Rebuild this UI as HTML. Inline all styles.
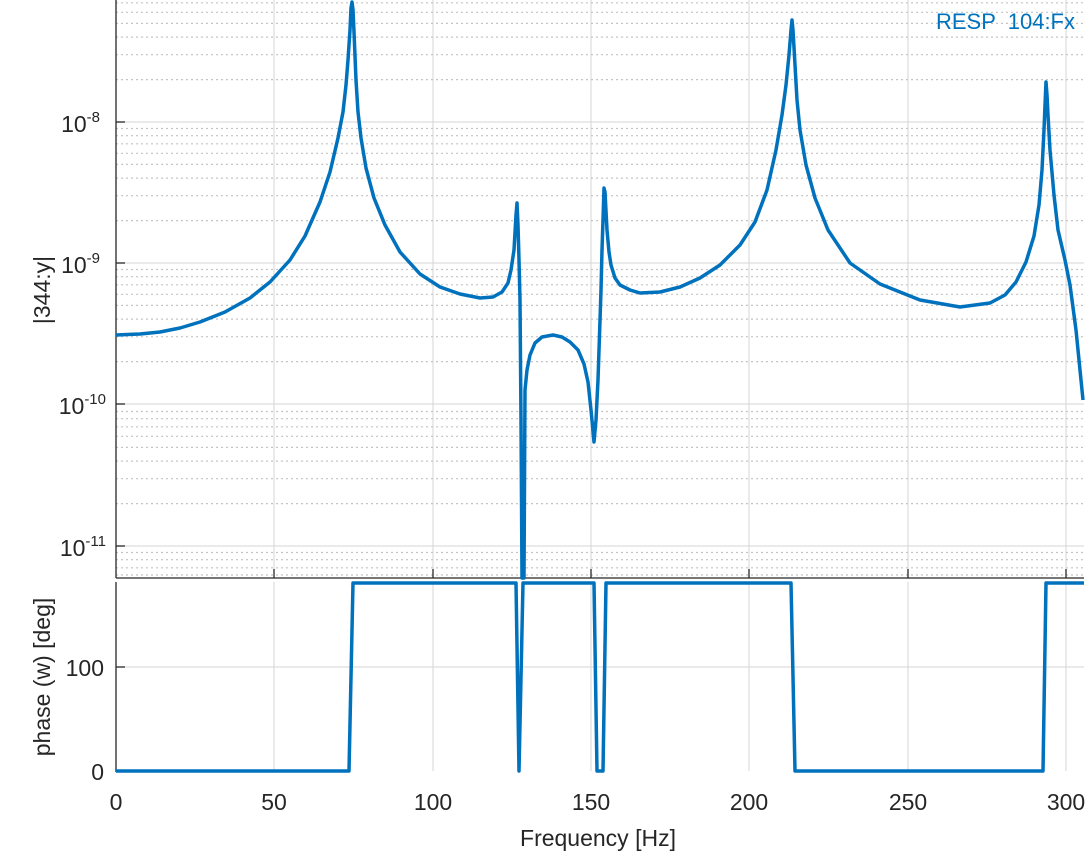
<!DOCTYPE html><html><head><style>body{margin:0;background:#fff}svg{display:block;font-family:"Liberation Sans",sans-serif}</style></head><body>
<svg width="1089" height="857" viewBox="0 0 1089 857">
<g stroke="#d6d6d6" stroke-width="1">
<line x1="274" y1="0" x2="274" y2="578"/><line x1="433" y1="0" x2="433" y2="578"/><line x1="591" y1="0" x2="591" y2="578"/><line x1="749" y1="0" x2="749" y2="578"/><line x1="908" y1="0" x2="908" y2="578"/><line x1="1066" y1="0" x2="1066" y2="578"/>
<line x1="274" y1="582" x2="274" y2="771"/><line x1="433" y1="582" x2="433" y2="771"/><line x1="591" y1="582" x2="591" y2="771"/><line x1="749" y1="582" x2="749" y2="771"/><line x1="908" y1="582" x2="908" y2="771"/><line x1="1066" y1="582" x2="1066" y2="771"/>
<line x1="116" y1="667" x2="1084" y2="667"/>
<line x1="116" y1="122" x2="1084" y2="122"/><line x1="116" y1="263" x2="1084" y2="263"/><line x1="116" y1="404" x2="1084" y2="404"/><line x1="116" y1="546" x2="1084" y2="546"/>
</g>
<g stroke="#c4c4c4" stroke-width="1.2" stroke-dasharray="2,3">
<line x1="116" x2="1084" y1="79.6" y2="79.6"/><line x1="116" x2="1084" y1="54.7" y2="54.7"/><line x1="116" x2="1084" y1="37.1" y2="37.1"/><line x1="116" x2="1084" y1="23.4" y2="23.4"/><line x1="116" x2="1084" y1="12.3" y2="12.3"/><line x1="116" x2="1084" y1="2.8" y2="2.8"/>
<line x1="116" x2="1084" y1="220.6" y2="220.6"/><line x1="116" x2="1084" y1="195.7" y2="195.7"/><line x1="116" x2="1084" y1="178.1" y2="178.1"/><line x1="116" x2="1084" y1="164.4" y2="164.4"/><line x1="116" x2="1084" y1="153.3" y2="153.3"/><line x1="116" x2="1084" y1="143.8" y2="143.8"/><line x1="116" x2="1084" y1="135.7" y2="135.7"/><line x1="116" x2="1084" y1="128.5" y2="128.5"/>
<line x1="116" x2="1084" y1="361.6" y2="361.6"/><line x1="116" x2="1084" y1="336.7" y2="336.7"/><line x1="116" x2="1084" y1="319.1" y2="319.1"/><line x1="116" x2="1084" y1="305.4" y2="305.4"/><line x1="116" x2="1084" y1="294.3" y2="294.3"/><line x1="116" x2="1084" y1="284.8" y2="284.8"/><line x1="116" x2="1084" y1="276.7" y2="276.7"/><line x1="116" x2="1084" y1="269.5" y2="269.5"/>
<line x1="116" x2="1084" y1="503.6" y2="503.6"/><line x1="116" x2="1084" y1="478.7" y2="478.7"/><line x1="116" x2="1084" y1="461.1" y2="461.1"/><line x1="116" x2="1084" y1="447.4" y2="447.4"/><line x1="116" x2="1084" y1="436.3" y2="436.3"/><line x1="116" x2="1084" y1="426.8" y2="426.8"/><line x1="116" x2="1084" y1="418.7" y2="418.7"/><line x1="116" x2="1084" y1="411.5" y2="411.5"/>
<line x1="116" x2="1084" y1="567.8" y2="567.8"/><line x1="116" x2="1084" y1="559.7" y2="559.7"/><line x1="116" x2="1084" y1="552.5" y2="552.5"/><line x1="116" x2="1084" y1="575" y2="575"/>
</g>
<g stroke="#262626" stroke-width="1.3" fill="none">
<line x1="116" y1="0" x2="116" y2="578"/><line x1="116" y1="578" x2="1084" y2="578"/>
<line x1="116" y1="582" x2="116" y2="772"/>
<line x1="116" y1="122" x2="125" y2="122"/><line x1="116" y1="263" x2="125" y2="263"/><line x1="116" y1="404" x2="125" y2="404"/><line x1="116" y1="546" x2="125" y2="546"/>
<line x1="274" y1="578" x2="274" y2="569"/><line x1="433" y1="578" x2="433" y2="569"/><line x1="591" y1="578" x2="591" y2="569"/><line x1="749" y1="578" x2="749" y2="569"/><line x1="908" y1="578" x2="908" y2="569"/><line x1="1066" y1="578" x2="1066" y2="569"/>
<line x1="116" y1="667" x2="125" y2="667"/>
</g>
<g fill="#262626" font-size="23" text-anchor="end">
<text x="100" y="132">10<tspan font-size="15" dy="-10">-8</tspan></text>
<text x="100" y="273">10<tspan font-size="15" dy="-10">-9</tspan></text>
<text x="106" y="414">10<tspan font-size="15" dy="-10">-10</tspan></text>
<text x="106" y="556">10<tspan font-size="15" dy="-10">-11</tspan></text>
<text x="104" y="676">100</text><text x="104" y="780">0</text>
</g>
<g fill="#262626" font-size="23" text-anchor="middle">
<text x="116" y="810">0</text><text x="274" y="810">50</text><text x="433" y="810">100</text><text x="591" y="810">150</text><text x="749" y="810">200</text><text x="908" y="810">250</text><text x="1066" y="810">300</text>
<text x="598" y="846">Frequency [Hz]</text>
<text transform="translate(50,290) rotate(-90)">|344:y|</text>
<text transform="translate(50,677) rotate(-90)">phase (w) [deg]</text>
</g>
<text x="1075" y="29" fill="#0072bd" font-size="22" text-anchor="end" xml:space="preserve">RESP  104:Fx</text>
<polyline fill="none" stroke="#0072bd" stroke-width="3.5" stroke-linejoin="round" points="116,335 140,334 160,332 180,328 200,322 225,312 250,298 270,282 290,260 305,236 320,202 330,172 338,138 343,112 346,85 348,60 350,30 351,8 352,2 353,10 354,32 356,80 358,112 361,138 366,168 374,198 385,225 400,252 420,274 440,287 460,294 480,298 493,297 502,292 508,283 511,270 514,250 516,215 517,203 518,225 519,260 520,300 521,420 522,578 524,578 525,390 527,370 530,355 535,343 542,337 553,335 562,337 570,342 578,350 584,364 588,382 591,410 594,442 596,420 598,380 600,320 601,290 602,250 603,220 604,188 605,192 607,230 609,252 611,265 615,278 620,285 630,290 640,293 660,292 680,287 700,278 720,265 740,245 755,222 767,190 776,150 782,115 786,85 789,55 791,30 792,20 793,30 795,65 797,100 800,130 806,165 815,198 828,230 850,263 880,284 920,300 960,307 990,303 1005,295 1016,282 1026,262 1034,236 1039,205 1042,170 1044,130 1045,105 1046,82 1047,95 1048,115 1050,150 1054,195 1058,230 1065,260 1070,285 1076,330 1083,400"/>
<polyline fill="none" stroke="#0072bd" stroke-width="3.5" stroke-linejoin="round" points="116,771 349,771 353,583 516,583 519,771 523,583 594,583 597,771 603,771 606,583 791,583 795,771 1043,771 1046,583 1084,583"/>
</svg></body></html>
